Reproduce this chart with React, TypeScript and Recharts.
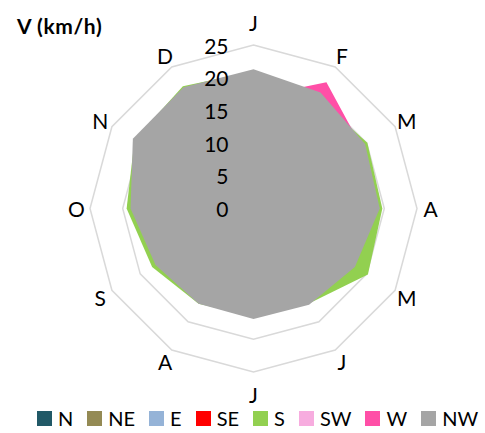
import { RadarChart, Radar, PolarGrid, PolarAngleAxis, PolarRadiusAxis, Legend } from 'recharts';

const months = ['Jan', 'Feb', 'Mar', 'Apr', 'May', 'Jun', 'Jul', 'Aug', 'Sep', 'Oct', 'Nov', 'Dec'];
const directions = ['N', 'NE', 'E', 'SE', 'S', 'SW', 'W', 'NW'];
const colors = ['#215967', '#948A54', '#95B3D7', '#FF0000', '#92D050', '#F7ACDF', '#FF4FA7', '#A5A5A5'];

// mean wind speed per month, one array per direction (km/h)
const vN = [17.0, 16.5, 16.0, 15.5, 15.0, 14.0, 14.0, 14.0, 14.5, 15.5, 17.0, 17.5];
const vNE = [16.0, 15.5, 15.0, 14.5, 14.0, 13.5, 13.0, 13.0, 13.5, 14.5, 16.0, 16.5];
const vE = [15.0, 14.5, 14.0, 13.5, 13.5, 13.0, 12.5, 12.5, 13.0, 14.0, 15.0, 15.5];
const vSE = [17.5, 17.0, 16.5, 16.5, 16.0, 15.0, 14.5, 14.5, 15.0, 16.0, 17.5, 18.0];
const vS = [21.0, 19.5, 20.1, 19.7, 20.2, 16.8, 16.5, 16.8, 17.9, 19.4, 21.0, 21.6];
const vSW = [18.5, 18.0, 17.5, 17.0, 16.5, 15.5, 15.5, 15.5, 16.0, 17.0, 18.5, 19.0];
const vW = [17.0, 22.3, 19.0, 18.0, 17.0, 16.0, 15.5, 15.5, 16.0, 17.5, 19.0, 19.5];
const vNW = [21.3, 20.5, 19.7, 19.3, 17.9, 17.0, 16.9, 16.8, 17.3, 18.8, 21.3, 21.4];

const radiusTicks = [0, 5, 10, 15, 20, 25];

const series = [vN, vNE, vE, vSE, vS, vSW, vW, vNW];
const data = months.map((m, i) => {
  const row: Record<string, string | number> = { month: m };
  directions.forEach((d, k) => { row[d] = series[k][i]; });
  return row;
});

const FONT = 'Lato, "Noto Sans", sans-serif';
const CX = 253.5;
const CY = 208.5;

const AngleTick = ({ payload }: any) => {
  const a = (payload.coordinate * Math.PI) / 180;
  const vertical = Math.abs(Math.sin(a)) > 0.99;
  const r = vertical ? 186 : 177;
  return (
    <text
      x={CX + r * Math.cos(a)}
      y={CY - r * Math.sin(a)}
      textAnchor="middle"
      dominantBaseline="central"
      fontSize={21}
      fontFamily={FONT}
      fill="#000"
    >
      {String(payload.value).charAt(0)}
    </text>
  );
};

const RadiusTick = ({ x, y, payload }: any) => (
  <text x={x - 25} y={y} textAnchor="end" dominantBaseline="central" fontSize={21} fontFamily={FONT} fill="#000">
    {payload.value}
  </text>
);

const LegendContent = () => (
  <div style={{ display: 'flex', alignItems: 'center', paddingLeft: 37, fontFamily: FONT, fontSize: 20, color: '#000' }}>
    {directions.map((d, i) => (
      <div key={d} style={{ display: 'flex', alignItems: 'center', marginRight: 14 }}>
        <span style={{ width: 15, height: 15, background: colors[i], marginRight: 6, display: 'inline-block' }} />
        <span>{d}</span>
      </div>
    ))}
  </div>
);

export default function App() {
  return (
    <div style={{ position: 'absolute', left: 0, top: 0, width: 485, height: 433, background: '#fff' }}>
      <div style={{ position: 'absolute', left: 17, top: 13, fontFamily: FONT, fontWeight: 700, fontSize: 21, letterSpacing: 0.6, zIndex: 2 }}>
        V (km/h)
      </div>
      <RadarChart
        width={485}
        height={433}
        data={data}
        cx={CX}
        cy={CY}
        outerRadius={163.5}
        margin={{ top: 0, right: 0, bottom: 0, left: 0 }}
      >
        <PolarGrid stroke="#D9D9D9" strokeWidth={1.5} radialLines={false} />
        <PolarAngleAxis dataKey="month" tick={<AngleTick />} axisLine={false} tickLine={false} />
        {directions.map((d, i) => (
          <Radar
            key={d}
            dataKey={d}
            name={d}
            stroke="none"
            fill={colors[i]}
            fillOpacity={1}
            isAnimationActive={false}
            dot={false}
          />
        ))}
        <PolarRadiusAxis
          angle={90}
          domain={[0, 25]}
          ticks={radiusTicks}
          type="number"
          axisLine={false}
          tickLine={false}
          tick={<RadiusTick />}
        />
        <Legend
          content={<LegendContent />}
          wrapperStyle={{ position: 'absolute', left: 0, top: 406, width: 485 }}
        />
      </RadarChart>
    </div>
  );
}
